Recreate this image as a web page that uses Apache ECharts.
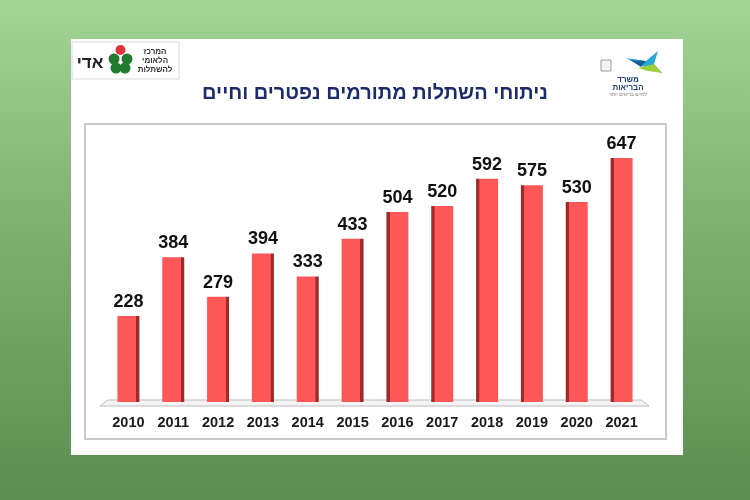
<!DOCTYPE html>
<html><head><meta charset="utf-8">
<script src="https://cdn.jsdelivr.net/npm/echarts@6/dist/echarts.min.js"></script>
<style>html,body{margin:0;padding:0;}#c{width:750px;height:500px;}</style>
</head><body><div id="c"></div>
<script>
var years = ['2010','2011','2012','2013','2014','2015','2016','2017','2018','2019','2020','2021'];
var values = [228, 384, 279, 394, 333, 433, 504, 520, 592, 575, 530, 647];
var titleText = 'ניתוחי השתלות מתורמים נפטרים וחיים';

var chart = echarts.init(document.getElementById('c'));
var base = '#ff5757', dark = '#9e2a2a';
function barColor(i) {
  var right = i < years.length / 2;
  var stops = right
    ? [{offset:0,color:base},{offset:0.84,color:base},{offset:0.86,color:dark},{offset:1,color:dark}]
    : [{offset:0,color:dark},{offset:0.14,color:dark},{offset:0.16,color:base},{offset:1,color:base}];
  return new echarts.graphic.LinearGradient(0,0,1,0,stops);
}
var F = "'Liberation Sans', Arial, sans-serif";
chart.setOption({
  backgroundColor: new echarts.graphic.LinearGradient(0,0,0,1,[{offset:0,color:'#a3d596'},{offset:0.45,color:'#7fb071'},{offset:1,color:'#5b8d52'}]),
  animation: false,
  graphic: [
    {type:'rect', z:-10, shape:{x:71,y:39,width:612,height:416}, style:{fill:'#ffffff'}},
    {type:'rect', z:-9, shape:{x:85,y:124,width:581,height:315}, style:{fill:'#ffffff',stroke:'#c9c9c9',lineWidth:2}},
    {type:'polygon', z:-8, shape:{points:[[100,406],[649,406],[641,400],[108,400]]}, style:{fill:'#f4f4f4',stroke:'#bdbdbd',lineWidth:1}},
    // left logo
    {type:'rect', z:-7, shape:{x:72,y:42,width:107,height:37}, style:{fill:'#ffffff',stroke:'#d8d8d8',lineWidth:1}},
    {type:'text', z:-6, style:{text:'אדי', x:90, y:63, fill:'#222', font:"bold 17px "+F, align:'center', verticalAlign:'middle'}},
    {type:'circle', z:-6, shape:{cx:114,cy:59,r:5.5}, style:{fill:'#237a31'}},
    {type:'circle', z:-6, shape:{cx:127,cy:59,r:5.5}, style:{fill:'#237a31'}},
    {type:'circle', z:-6, shape:{cx:116,cy:68,r:5.5}, style:{fill:'#237a31'}},
    {type:'circle', z:-6, shape:{cx:125,cy:68,r:5.5}, style:{fill:'#237a31'}},
    {type:'circle', z:-5, shape:{cx:120.5,cy:50,r:5}, style:{fill:'#e0363a'}},
    {type:'text', z:-6, style:{text:'המרכז\nהלאומי\nלהשתלות', x:155, y:61, fill:'#333', font:"bold 8px "+F, align:'center', verticalAlign:'middle', lineHeight:9}},
    // right logo
    {type:'rect', z:-6, shape:{x:601,y:60,width:10,height:11}, style:{fill:'#f4f4f4',stroke:'#9a9a9a',lineWidth:1}},
    {type:'polygon', z:-6, shape:{points:[[626,58],[646,61],[658,51],[654,64],[662,73],[646,68]]}, style:{fill:'#2aa6d8'}},
    {type:'polygon', z:-5, shape:{points:[[638,68],[654,64],[662,73],[648,71]]}, style:{fill:'#9ccf3a'}},
    {type:'polygon', z:-5, shape:{points:[[630,60],[646,61],[641,67]]}, style:{fill:'#1b5e9e'}},
    {type:'text', z:-6, style:{text:'משרד\nהבריאות', x:628, y:84, fill:'#1f3f7a', font:"bold 8px "+F, align:'center', verticalAlign:'middle', lineHeight:8}},
    {type:'text', z:-6, style:{text:'לחיים בריאים יותר', x:628, y:95, fill:'#777', font:"5px "+F, align:'center', verticalAlign:'middle'}}
  ],
  title: {
    text: titleText, left: 'center', top: 78,
    textStyle: {color:'#1c2b6b', fontSize:20, fontWeight:'bold', fontFamily:F}
  },
  grid: {left:106, right:106, top:138, bottom:98, containLabel:false},
  xAxis: {
    type:'category', data: years,
    axisLine:{show:false}, axisTick:{show:false},
    axisLabel:{color:'#1a1a1a', fontSize:14.5, fontWeight:'bold', fontFamily:F, margin:13}
  },
  yAxis: {type:'value', min:0, max:700, show:false, splitLine:{show:false}},
  series: [{
    type:'bar', barWidth:22,
    data: values.map(function(v,i){return {value:v, itemStyle:{color:barColor(i)}};}),
    label: {show:true, position:'top', distance:5, color:'#111', fontSize:18, fontWeight:'bold', fontFamily:F}
  }]
});
</script></body></html>
